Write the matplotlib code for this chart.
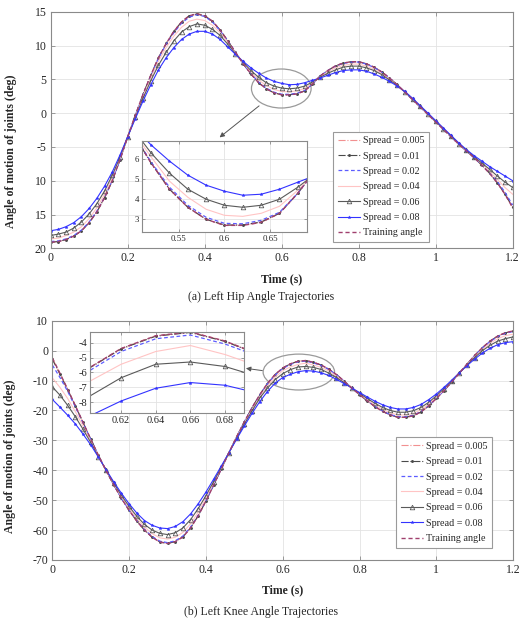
import numpy as np
import matplotlib
matplotlib.use('Agg')
import matplotlib.pyplot as plt
from matplotlib.patches import Ellipse

plt.rcParams['font.family'] = ['Liberation Serif', 'DejaVu Serif']
plt.rcParams['axes.unicode_minus'] = False

time = np.round(np.arange(0, 1.2001, 0.02), 2)

series_labels = ['Spread = 0.005', 'Spread = 0.01', 'Spread = 0.02', 'Spread = 0.04',
                 'Spread = 0.06', 'Spread = 0.08', 'Training angle']

# ---------------- Left hip (deg) ----------------
hip_training = [-19.1, -19.0, -18.7, -18.2, -17.4, -16.2, -14.6, -12.5, -10.0, -6.9,
                -3.5, -0.3, 2.8, 5.6, 8.2, 10.3, 12.1, 13.5, 14.4, 14.7,
                14.4, 13.6, 12.3, 10.7, 9.0, 7.3, 5.8, 4.5, 3.6, 3.0,
                2.7, 2.7, 2.85, 3.3, 4.3, 5.5, 6.3, 7.0, 7.4, 7.6,
                7.6, 7.3, 6.8, 6.1, 5.2, 4.2, 3.1, 2.0, 0.9, -0.2,
                -1.3, -2.4, -3.5, -4.6, -5.6, -6.6, -7.7, -8.9, -10.3, -12.0,
                -14.0]
hip_s0005 = [-19.1, -19.0, -18.7, -18.2, -17.4, -16.2, -14.6, -12.5, -10.0, -6.9,
             -3.5, -0.3, 2.8, 5.6, 8.2, 10.3, 12.1, 13.5, 14.4, 14.7,
             14.4, 13.6, 12.3, 10.7, 9.0, 7.3, 5.8, 4.5, 3.6, 3.0,
             2.7, 2.7, 2.85, 3.3, 4.3, 5.5, 6.3, 7.0, 7.4, 7.6,
             7.6, 7.3, 6.8, 6.1, 5.2, 4.2, 3.1, 2.0, 0.9, -0.2,
             -1.3, -2.4, -3.5, -4.6, -5.6, -6.6, -7.7, -8.9, -10.3, -12.0,
             -14.0]
hip_s001 = [-19.1, -19.0, -18.7, -18.2, -17.4, -16.2, -14.6, -12.5, -10.0, -6.9,
            -3.5, -0.3, 2.8, 5.6, 8.2, 10.3, 12.1, 13.5, 14.4, 14.65,
            14.4, 13.6, 12.3, 10.7, 9.0, 7.3, 5.8, 4.5, 3.6, 3.0,
            2.72, 2.72, 2.87, 3.3, 4.3, 5.5, 6.3, 7.0, 7.4, 7.6,
            7.6, 7.3, 6.8, 6.1, 5.2, 4.2, 3.1, 2.0, 0.9, -0.2,
            -1.3, -2.4, -3.5, -4.6, -5.6, -6.6, -7.7, -8.9, -10.3, -11.95,
            -13.9]
hip_s002 = [-19.0, -18.9, -18.6, -18.1, -17.3, -16.1, -14.5, -12.4, -9.9, -6.9,
            -3.5, -0.35, 2.7, 5.5, 8.1, 10.2, 11.9, 13.3, 14.2, 14.55,
            14.3, 13.5, 12.2, 10.7, 9.0, 7.3, 5.85, 4.6, 3.7, 3.1,
            2.8, 2.78, 2.95, 3.35, 4.3, 5.5, 6.3, 6.95, 7.35, 7.55,
            7.55, 7.25, 6.75, 6.05, 5.2, 4.2, 3.1, 2.0, 0.9, -0.2,
            -1.3, -2.4, -3.5, -4.6, -5.6, -6.6, -7.65, -8.8, -10.1, -11.7,
            -13.6]
hip_s004 = [-18.6, -18.5, -18.1, -17.6, -16.8, -15.6, -14.0, -12.0, -9.6, -6.7,
            -3.5, -0.45, 2.5, 5.2, 7.7, 9.7, 11.4, 12.7, 13.6, 13.9,
            13.7, 13.0, 11.9, 10.5, 8.9, 7.4, 6.1, 4.9, 4.1, 3.5,
            3.2, 3.15, 3.3, 3.65, 4.45, 5.4, 6.1, 6.7, 7.05, 7.25,
            7.25, 6.95, 6.5, 5.85, 5.05, 4.15, 3.15, 2.05, 0.95, -0.15,
            -1.25, -2.35, -3.45, -4.55, -5.55, -6.5, -7.5, -8.6, -9.8, -11.0,
            -12.0]
hip_s006 = [-18.1, -17.9, -17.6, -17.0, -16.1, -14.9, -13.4, -11.5, -9.2, -6.5,
            -3.5, -0.6, 2.2, 4.8, 7.1, 9.0, 10.7, 12.0, 12.8, 13.2,
            13.0, 12.4, 11.5, 10.2, 8.8, 7.5, 6.3, 5.3, 4.5, 4.0,
            3.7, 3.6, 3.7, 4.0, 4.6, 5.3, 5.9, 6.4, 6.8, 6.95,
            6.95, 6.7, 6.3, 5.7, 4.9, 4.1, 3.15, 2.1, 1.0, -0.1,
            -1.2, -2.3, -3.4, -4.5, -5.5, -6.45, -7.4, -8.3, -9.3, -10.2,
            -11.0]
hip_s008 = [-17.4, -17.2, -16.8, -16.2, -15.3, -14.1, -12.6, -10.8, -8.7, -6.2,
            -3.5, -0.8, 1.8, 4.2, 6.4, 8.2, 9.7, 10.9, 11.7, 12.1,
            12.1, 11.7, 10.9, 9.8, 8.7, 7.65, 6.7, 5.9, 5.2, 4.7,
            4.4, 4.2, 4.25, 4.5, 4.85, 5.2, 5.6, 6.0, 6.3, 6.4,
            6.4, 6.2, 5.8, 5.3, 4.7, 4.0, 3.2, 2.2, 1.1, 0.0,
            -1.1, -2.2, -3.3, -4.4, -5.4, -6.3, -7.1, -7.9, -8.6, -9.3,
            -10.0]

# ---------------- Left knee (deg) ----------------
knee_training = [-2.4, -7.6, -12.9, -18.4, -24.0, -29.6, -35.0, -40.1, -44.9, -49.4,
                 -53.4, -57.0, -60.0, -62.4, -64.0, -64.5, -63.9, -62.3, -59.3, -55.2,
                 -50.3, -45.0, -39.6, -34.1, -28.8, -23.8, -19.1, -14.8, -11.0, -8.0,
                 -5.8, -4.4, -3.55, -3.3, -3.9, -4.8, -6.2, -8.0, -10.2, -12.5,
                 -14.7, -16.8, -18.7, -20.3, -21.5, -22.3, -22.3, -21.8, -20.5, -18.5,
                 -16.0, -13.4, -10.5, -7.5, -4.5, -1.6, 1.0, 3.2, 4.9, 6.0,
                 6.6]
knee_s0005 = [-2.5, -7.7, -12.9, -18.4, -24.0, -29.6, -35.0, -40.1, -44.9, -49.4,
              -53.4, -57.0, -60.0, -62.4, -64.0, -64.5, -63.9, -62.3, -59.3, -55.2,
              -50.3, -45.0, -39.6, -34.1, -28.8, -23.8, -19.1, -14.8, -11.0, -8.0,
              -5.8, -4.4, -3.55, -3.3, -3.9, -4.8, -6.2, -8.0, -10.2, -12.5,
              -14.7, -16.8, -18.7, -20.3, -21.5, -22.3, -22.3, -21.8, -20.5, -18.5,
              -16.0, -13.4, -10.5, -7.5, -4.5, -1.6, 1.0, 3.2, 4.9, 6.0,
              6.6]
knee_s001 = [-2.9, -7.9, -13.1, -18.5, -24.0, -29.6, -35.0, -40.1, -44.9, -49.4,
             -53.4, -57.0, -60.0, -62.35, -63.95, -64.45, -63.85, -62.25, -59.3, -55.2,
             -50.3, -45.0, -39.6, -34.1, -28.8, -23.8, -19.1, -14.8, -11.0, -8.0,
             -5.82, -4.43, -3.58, -3.33, -3.93, -4.82, -6.2, -8.0, -10.2, -12.5,
             -14.7, -16.8, -18.7, -20.3, -21.5, -22.25, -22.25, -21.75, -20.5, -18.5,
             -16.0, -13.4, -10.5, -7.5, -4.5, -1.6, 1.0, 3.2, 4.85, 5.95,
             6.55]
knee_s002 = [-4.8, -9.0, -13.6, -18.8, -24.2, -29.7, -35.0, -40.1, -44.85, -49.3,
             -53.3, -56.85, -59.8, -62.15, -63.7, -64.2, -63.6, -62.0, -59.0, -55.0,
             -50.1, -44.9, -39.55, -34.1, -28.85, -23.9, -19.2, -14.95, -11.15, -8.2,
             -6.0, -4.6, -3.75, -3.5, -4.1, -4.95, -6.3, -8.1, -10.25, -12.5,
             -14.65, -16.7, -18.6, -20.15, -21.35, -22.1, -22.1, -21.6, -20.35, -18.4,
             -15.9, -13.35, -10.45, -7.5, -4.55, -1.7, 0.9, 3.05, 4.7, 5.8,
             6.4]
knee_s004 = [-9.1, -12.3, -16.0, -20.4, -25.2, -30.2, -35.2, -40.0, -44.6, -48.9,
             -52.7, -56.2, -59.0, -61.2, -62.6, -63.0, -62.4, -60.8, -57.9, -54.0,
             -49.4, -44.4, -39.3, -34.1, -29.0, -24.2, -19.7, -15.5, -11.8, -8.9,
             -6.7, -5.45, -4.6, -4.2, -4.8, -5.6, -6.8, -8.5, -10.4, -12.5,
             -14.5, -16.4, -18.2, -19.6, -20.8, -21.5, -21.5, -21.0, -19.75, -17.9,
             -15.55, -13.1, -10.3, -7.5, -4.65, -2.0, 0.45, 2.5, 4.0, 5.0,
             5.5]
knee_s006 = [-12.1, -14.9, -18.3, -22.1, -26.3, -30.7, -35.4, -39.9, -44.3, -48.4,
             -52.1, -55.4, -58.1, -60.0, -61.1, -61.5, -60.9, -59.3, -56.5, -52.8,
             -48.5, -43.8, -39.0, -34.1, -29.3, -24.6, -20.2, -15.9, -12.6, -9.7,
             -7.7, -6.35, -5.45, -5.3, -5.6, -6.3, -7.5, -9.0, -10.7, -12.5,
             -14.3, -16.0, -17.6, -19.0, -20.0, -20.6, -20.6, -20.1, -19.0, -17.3,
             -15.1, -12.7, -10.1, -7.45, -4.8, -2.3, 0.0, 1.8, 3.2, 4.0,
             4.6]
knee_s008 = [-16.3, -18.9, -21.6, -24.5, -27.9, -31.5, -35.6, -39.8, -43.9, -47.7,
             -51.2, -54.3, -56.8, -58.4, -59.3, -59.5, -58.8, -57.2, -54.6, -51.2,
             -47.3, -43.0, -38.6, -34.1, -29.6, -25.2, -21.0, -17.1, -13.7, -10.9,
             -9.0, -7.9, -7.05, -6.67, -6.85, -7.4, -8.3, -9.6, -11.0, -12.5,
             -14.0, -15.5, -16.9, -18.1, -19.0, -19.5, -19.5, -19.0, -18.0, -16.4,
             -14.5, -12.3, -9.9, -7.4, -5.0, -2.8, -0.8, 0.8, 2.0, 2.7,
             3.0]

hip_series = [hip_s0005, hip_s001, hip_s002, hip_s004, hip_s006, hip_s008, hip_training]
knee_series = [knee_s0005, knee_s001, knee_s002, knee_s004, knee_s006, knee_s008, knee_training]

main_xticks = [0, 0.2, 0.4, 0.6, 0.8, 1.0, 1.2]
main_xticklabels = ['0', '0.2', '0.4', '0.6', '0.8', '1', '1.2']
hip_yticks = [-20, -15, -10, -5, 0, 5, 10, 15]
hip_yticklabels = ['20', '15', '10', '-5', '0', '5', '10', '15']
knee_yticks = [-70, -60, -50, -40, -30, -20, -10, 0, 10]
knee_yticklabels = ['-70', '-60', '-50', '-40', '-30', '-20', '-10', '0', '10']

styles = [
    dict(color='#F29090', ls='-.', lw=0.8),
    dict(color='#4A4A4A', ls='-.', lw=0.8, marker='.', ms=2.2),
    dict(color='#5C5CFF', ls='--', lw=0.9, dashes=(3, 2)),
    dict(color='#FFC4C4', ls='-', lw=0.8),
    dict(color='#5A5A5A', ls='-', lw=0.8, marker='^', ms=3.3, mfc='none', mew=0.6),
    dict(color='#3333FF', ls='-', lw=0.8, marker='*', ms=2.3, mew=0.3),
    dict(color='#A0406E', ls='--', lw=1.0, dashes=(3, 2)),
]

GRID = '#E3E3E3'
SPINE = '#8A8A8A'
TXT = '#262626'


def style_axes(ax, fs):
    ax.grid(True, color=GRID, lw=0.6)
    ax.set_axisbelow(True)
    for s in ax.spines.values():
        s.set_color(SPINE)
        s.set_linewidth(0.8)
    ax.tick_params(direction='in', length=3, width=0.6, colors=SPINE,
                   labelcolor=TXT, labelsize=fs, top=True, right=True, pad=3)


def draw(ax, series):
    for vals, lab, st in zip(series, series_labels, styles):
        ax.plot(time, vals, label=lab, **st)


def make_legend(ax, anchor):
    leg = ax.legend(loc='lower left', bbox_to_anchor=anchor, fontsize=7.3,
                    frameon=True, fancybox=False, framealpha=1, edgecolor='#9A9A9A',
                    handlelength=2.2, labelspacing=0.62, borderpad=0.45, handletextpad=0.3)
    leg.get_frame().set_linewidth(0.8)
    for t in leg.get_texts():
        t.set_color(TXT)
    return leg


fig = plt.figure(figsize=(5.22, 6.2), dpi=100)

# ---------- top panel ----------
ax1 = fig.add_axes([0.0971, 0.5995, 0.885, 0.3816])
draw(ax1, hip_series)
ax1.set_xlim(0, 1.2)
ax1.set_ylim(-20, 15)
ax1.set_xticks(main_xticks)
ax1.set_xticklabels(main_xticklabels)
ax1.set_yticks(hip_yticks)
ax1.set_yticklabels(hip_yticklabels)
style_axes(ax1, 8.5)
ax1.set_xlabel('Time (s)', fontsize=8.5, fontweight='bold', color=TXT, labelpad=6)
ax1.set_ylabel('Angle of motion of joints (deg)', fontsize=8.5, fontweight='bold', color=TXT)
ax1.yaxis.set_label_coords(-0.073, 0.41)
make_legend(ax1, (0.60, 0.005))
ax1.add_patch(Ellipse((0.599, 3.64), 0.155, 5.77, fill=False, ec='#9A9A9A', lw=0.9))
ax1.annotate('', xy=(0.433, -3.85), xytext=(0.547, 1.33),
             arrowprops=dict(arrowstyle='-|>', color='#555555', lw=0.7, mutation_scale=7))

ins1 = fig.add_axes([0.2720, 0.6258, 0.3161, 0.1468])
draw(ins1, hip_series)
ins1.set_xlim(0.51, 0.69)
ins1.set_ylim(2.37, 6.9)
ins1.set_xticks([0.55, 0.6, 0.65])
ins1.set_xticklabels(['0.55', '0.6', '0.65'])
ins1.set_yticks([3, 4, 5, 6])
style_axes(ins1, 6.3)
ins1.tick_params(length=2, pad=2)

fig.text(0.5, 1 - 297 / 620, '(a) Left Hip Angle Trajectories', ha='center', va='center',
         fontsize=8.5, color=TXT)

# ---------- bottom panel ----------
ax2 = fig.add_axes([0.1002, 0.0968, 0.8828, 0.3859])
draw(ax2, knee_series)
ax2.set_xlim(0, 1.2)
ax2.set_ylim(-70, 10)
ax2.set_xticks(main_xticks)
ax2.set_xticklabels(main_xticklabels)
ax2.set_yticks(knee_yticks)
ax2.set_yticklabels(knee_yticklabels)
style_axes(ax2, 8.5)
ax2.set_xlabel('Time (s)', fontsize=8.5, fontweight='bold', color=TXT, labelpad=6)
ax2.set_ylabel('Angle of motion of joints (deg)', fontsize=8.5, fontweight='bold', color=TXT)
ax2.yaxis.set_label_coords(-0.078, 0.435)
make_legend(ax2, (0.735, 0.03))
ax2.add_patch(Ellipse((0.642, -7.16), 0.186, 12.0, fill=False, ec='#9A9A9A', lw=0.9))
ax2.annotate('', xy=(0.497, -5.8), xytext=(0.554, -6.8),
             arrowprops=dict(arrowstyle='-|>', color='#555555', lw=0.7, mutation_scale=7))

ins2 = fig.add_axes([0.1724, 0.3339, 0.295, 0.1306])
draw(ins2, knee_series)
ins2.set_xlim(0.602, 0.691)
ins2.set_ylim(-8.7, -3.3)
ins2.set_xticks([0.62, 0.64, 0.66, 0.68])
ins2.set_xticklabels(['0.62', '0.64', '0.66', '0.68'])
ins2.set_yticks([-8, -7, -6, -5, -4])
style_axes(ins2, 7.5)
ins2.tick_params(length=2, pad=2)

fig.text(0.5, 1 - 612 / 620, '(b) Left Knee Angle Trajectories', ha='center', va='center',
         fontsize=8.5, color=TXT)

fig.savefig('out.png', dpi=100)
